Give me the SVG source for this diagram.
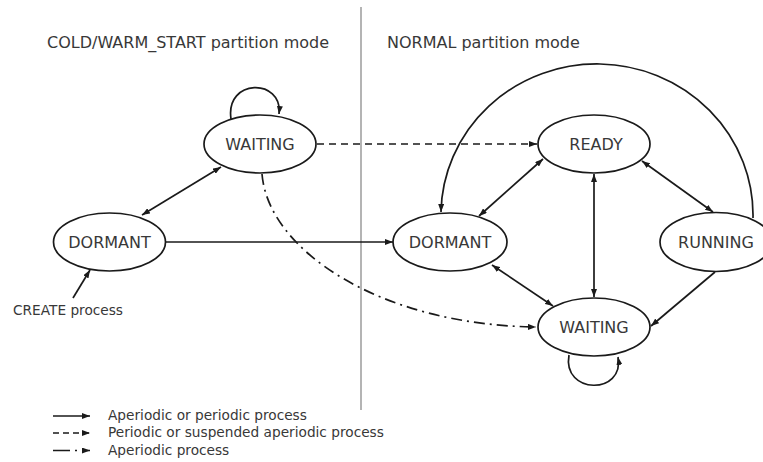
<svg xmlns="http://www.w3.org/2000/svg" width="763" height="462" viewBox="0 0 763 462">
  <style>
    .node ellipse { fill: #ffffff; stroke: #1a1a1a; stroke-width: 1.7; }
    .label { font-family: "DejaVu Sans", "Liberation Sans", sans-serif; font-size: 16px; fill: #383838; text-anchor: middle; }
    .title { font-family: "DejaVu Sans", "Liberation Sans", sans-serif; font-size: 16px; fill: #383838; }
    .small { font-family: "DejaVu Sans", "Liberation Sans", sans-serif; font-size: 13.7px; fill: #383838; }
    .edge { fill: none; stroke: #1a1a1a; stroke-width: 1.7; }
    .dashed { stroke-dasharray: 7 5; }
    .dashdot { stroke-dasharray: 11 5 2 5; }
    .divider { stroke: #b4b4b4; stroke-width: 2; }
  </style>
  <defs>
    <marker id="arrow" viewBox="0 0 8 6" refX="8" refY="3" markerWidth="8" markerHeight="6" markerUnits="userSpaceOnUse" orient="auto-start-reverse">
      <path d="M0,0 L8,3 L0,6 z" fill="#1a1a1a"/>
    </marker>
  </defs>

  <!-- mode divider -->
  <line class="divider" x1="361" y1="7" x2="361" y2="410"/>

  <!-- section titles -->
  <text class="title" x="47" y="48">COLD/WARM_START partition mode</text>
  <text class="title" x="387" y="48">NORMAL partition mode</text>

  <!-- transitions -->
  <g id="connectors">
    <!-- cold/warm start side -->
    <line class="edge" x1="142" y1="215" x2="221" y2="167" marker-start="url(#arrow)" marker-end="url(#arrow)"/>
    <path class="edge" d="M 231 119 C 225 78, 283 78, 279 114" marker-end="url(#arrow)"/>
    <line class="edge" x1="73" y1="298" x2="90" y2="270" marker-end="url(#arrow)"/>
    <!-- crossing into normal mode -->
    <line class="edge dashed" x1="317" y1="144" x2="537" y2="144" marker-end="url(#arrow)"/>
    <line class="edge" x1="166" y1="242" x2="393" y2="242" marker-end="url(#arrow)"/>
    <path class="edge dashdot" d="M 262 174 C 268 250, 380 325, 536 327" marker-end="url(#arrow)"/>
    <!-- normal mode -->
    <path class="edge" d="M 753 218 A 156 151 0 0 0 441 212" marker-end="url(#arrow)"/>
    <line class="edge" x1="543" y1="159" x2="479" y2="216" marker-start="url(#arrow)" marker-end="url(#arrow)"/>
    <line class="edge" x1="642" y1="161" x2="713" y2="212" marker-start="url(#arrow)" marker-end="url(#arrow)"/>
    <line class="edge" x1="594" y1="174" x2="594" y2="297" marker-start="url(#arrow)" marker-end="url(#arrow)"/>
    <line class="edge" x1="492" y1="265" x2="553" y2="306" marker-start="url(#arrow)" marker-end="url(#arrow)"/>
    <line class="edge" x1="715" y1="272" x2="651" y2="326" marker-end="url(#arrow)"/>
    <path class="edge" d="M 569 355 C 562 395, 625 395, 618 357" marker-end="url(#arrow)"/>
  </g>

  <!-- states -->
  <g id="cw-waiting" class="node">
    <ellipse cx="260" cy="144" rx="56" ry="29"/>
    <text class="label" x="260" y="149.5">WAITING</text>
  </g>
  <g id="cw-dormant" class="node">
    <ellipse cx="109.5" cy="242" rx="56" ry="29"/>
    <text class="label" x="109.5" y="247.5">DORMANT</text>
  </g>
  <g id="n-ready" class="node">
    <ellipse cx="594" cy="144" rx="56" ry="29"/>
    <text class="label" x="596" y="149.5">READY</text>
  </g>
  <g id="n-dormant" class="node">
    <ellipse cx="450" cy="242" rx="57" ry="29"/>
    <text class="label" x="450" y="247.5">DORMANT</text>
  </g>
  <g id="n-running" class="node">
    <ellipse cx="716" cy="242" rx="56" ry="29.5"/>
    <text class="label" x="716" y="247.5">RUNNING</text>
  </g>
  <g id="n-waiting" class="node">
    <ellipse cx="594" cy="327" rx="56" ry="29"/>
    <text class="label" x="594" y="332.5">WAITING</text>
  </g>

  <text class="small" x="13" y="315">CREATE process</text>

  <!-- legend -->
  <g id="legend">
    <line class="edge" x1="53" y1="416" x2="90" y2="416" marker-end="url(#arrow)"/>
    <line class="edge dashed" x1="53" y1="433" x2="90" y2="433" style="stroke-dasharray: 6 4" marker-end="url(#arrow)"/>
    <line class="edge" x1="53" y1="450.5" x2="90" y2="450.5" style="stroke-dasharray: 17 5 2 5" marker-end="url(#arrow)"/>
    <text class="small" x="108" y="419.5">Aperiodic or periodic process</text>
    <text class="small" x="108" y="437">Periodic or suspended aperiodic process</text>
    <text class="small" x="108" y="454.5">Aperiodic process</text>
  </g>
</svg>
